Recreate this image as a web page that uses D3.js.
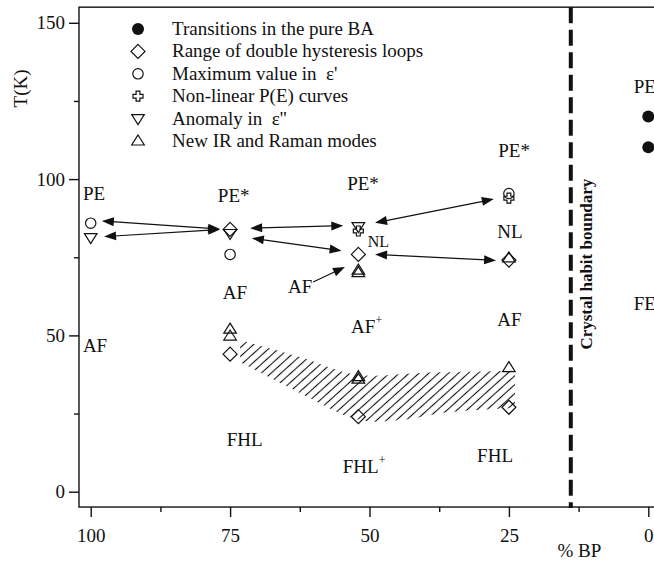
<!DOCTYPE html>
<html><head><meta charset="utf-8">
<script src="https://cdn.jsdelivr.net/npm/d3@7"></script>
<style>
body{margin:0;background:#fff;}
svg{display:block;font-family:"Liberation Serif","Times New Roman",serif;}
</style></head><body>
<svg id="c" width="654" height="561"></svg>
<script>
// ---------- data ----------
const xMajorTicks = [100, 75, 50, 25, 0];
const xMinorTicks = [87.5, 62.5, 37.5, 12.5];
const yMajorTicks = [0, 50, 100, 150];
const yMinorTicks = [25, 75, 125];

const pureBA      = [{x:0,t:120},{x:0,t:110.2}];
const doubleLoops = [{x:75,t:83.9},{x:75,t:44},{x:52,t:75.9},{x:52,t:24},{x:25,t:74.1},{x:25,t:27}];
const maxEps1     = [{x:100,t:85.9},{x:75,t:75.9},{x:25,t:95.4}];
const nonLinearPE = [{x:52,t:83.4},{x:25,t:93.9}];
const anomalyEps2 = [{x:100,t:81.3},{x:75,t:82.6},{x:52,t:84.8}];
const newModes    = [{x:75,t:52},{x:75,t:49.8},{x:52,t:70.9},{x:52,t:70.1},{x:52,t:36.8},{x:52,t:36.0},{x:25,t:74.8},{x:25,t:39.7}];

const hatchUpper = [{x:73.2,t:48.5},{x:62.5,t:43.1},{x:52.2,t:37.4},{x:40.9,t:38.0},{x:23.9,t:38.7}];
const hatchLower = [{x:73.2,t:41.5},{x:62.5,t:31.6},{x:51.7,t:22.9},{x:44.5,t:22.9},{x:35.6,t:25.5},{x:23.9,t:26.8}];

const boundaryX = 13.9;

const arrows = [
  {x1:98.0,t1:86.6,x2:76.8,t2:84.0,both:true},
  {x1:97.6,t1:81.6,x2:76.8,t2:83.9,both:true},
  {x1:71.4,t1:84.3,x2:54.7,t2:85.1,both:true},
  {x1:71.1,t1:81.1,x2:55.0,t2:77.1,both:true},
  {x1:49.0,t1:86.0,x2:27.7,t2:93.6,both:true},
  {x1:49.0,t1:75.9,x2:27.3,t2:74.0,both:true},
  {x1:60.1,t1:67.1,x2:54.4,t2:71.9,both:false}
];

const labels = [
  {text:"PE",  x:101.4,t:93.3},
  {text:"PE*", x:77.2, t:92.7},
  {text:"PE*", x:54.0, t:96.5},
  {text:"PE*", x:26.9, t:107.1},
  {text:"AF",  x:101.4,t:44.7},
  {text:"AF",  x:76.3, t:61.6},
  {text:"AF",  x:64.6, t:63.6},
  {text:"NL",  x:50.3, t:78.3, small:true},
  {text:"NL",  x:27.1, t:81.1},
  {text:"AF",  x:53.3, t:50.8, sup:"+"},
  {text:"AF",  x:27.1, t:53.0},
  {text:"FE",  x:2.6,  t:58.2},
  {text:"PE",  x:2.6,  t:127.5},
  {text:"FHL", x:75.6, t:14.6},
  {text:"FHL", x:54.8, t:6.0, sup:"+"},
  {text:"FHL", x:30.7, t:9.5}
];

const legendItems = [
  {shape:"filled",  text:"Transitions in the pure BA"},
  {shape:"diamond", text:"Range of double hysteresis loops"},
  {shape:"circle",  text:"Maximum value in  ε'"},
  {shape:"cross",   text:"Non-linear P(E) curves"},
  {shape:"down",    text:"Anomaly in  ε''"},
  {shape:"up",      text:"New IR and Raman modes"}
];

// ---------- scales ----------
const svg = d3.select('#c');
const x = d3.scaleLinear().domain([100, 0]).range([90.7, 648.3]);
const y = d3.scaleLinear().domain([0, 150]).range([491.7, 22.8]);
const xLo = 102.1, xHi = -2.2, yLo = -4.9, yHi = 155;
const INK = '#111';

// ---------- shapes ----------
const shapes = {
  diamond: 'M0,-7L7,0L0,7L-7,0Z',
  up: 'M0,-6L6.3,4L-6.3,4Z',
  down: 'M-6.3,-4L6.3,-4L0,6Z',
  cross: (()=>{const a=1.9,L=5;return `M${-a},${-L}H${a}V${-a}H${L}V${a}H${a}V${L}H${-a}V${a}H${-L}V${-a}H${-a}Z`;})()
};
function drawShape(g, shape, cx, cy){
  if(shape==='filled'){
    g.append('circle').attr('cx',cx).attr('cy',cy).attr('r',6).attr('fill',INK);
  } else if(shape==='circle'){
    g.append('circle').attr('cx',cx).attr('cy',cy).attr('r',5.2).attr('fill','none').attr('stroke',INK).attr('stroke-width',1.2);
  } else {
    g.append('path').attr('d',shapes[shape]).attr('transform',`translate(${cx},${cy})`)
      .attr('fill','none').attr('stroke',INK).attr('stroke-width',1.2).attr('stroke-linejoin','miter');
  }
}

// ---------- hatch pattern ----------
const defs = svg.append('defs');
const pat = defs.append('pattern').attr('id','hatch').attr('patternUnits','userSpaceOnUse')
  .attr('width',10).attr('height',6.6).attr('patternTransform','rotate(-42)');
pat.append('line').attr('x1',0).attr('y1',3.3).attr('x2',10).attr('y2',3.3)
  .attr('stroke',INK).attr('stroke-width',1.1);

const lineGen = d3.line().x(d=>x(d.x)).y(d=>y(d.t)).curve(d3.curveCatmullRom);
const upPath = lineGen(hatchUpper);
const loPath = lineGen(hatchLower.slice().reverse());
svg.append('path').attr('d', upPath + loPath.replace(/^M/,'L') + 'Z').attr('fill','url(#hatch)');

// ---------- frame ----------
svg.append('rect').attr('x',x(xLo)).attr('y',y(yHi))
  .attr('width',x(xHi)-x(xLo)).attr('height',y(yLo)-y(yHi))
  .attr('fill','none').attr('stroke',INK).attr('stroke-width',1.4);

// ---------- axes ----------
function styleAxis(g){
  g.select('.domain').remove();
  g.attr('font-family','"Liberation Serif","Times New Roman",serif').attr('font-size',19);
  g.selectAll('line').attr('stroke',INK).attr('stroke-width',1.4);
  g.selectAll('text').attr('fill',INK);
}
svg.append('g').attr('transform',`translate(0,${y(yLo)})`)
  .call(d3.axisBottom(x).tickValues(xMajorTicks).tickSize(10).tickPadding(11.5).tickFormat(d3.format('d')))
  .call(styleAxis);
svg.append('g').attr('transform',`translate(0,${y(yLo)})`)
  .call(d3.axisBottom(x).tickValues(xMinorTicks).tickSize(5).tickFormat(''))
  .call(styleAxis);
svg.append('g').attr('transform',`translate(${x(xLo)},0)`)
  .call(d3.axisLeft(y).tickValues(yMajorTicks).tickSize(10).tickPadding(4).tickFormat(d3.format('d')))
  .call(styleAxis);
svg.append('g').attr('transform',`translate(${x(xLo)},0)`)
  .call(d3.axisLeft(y).tickValues(yMinorTicks).tickSize(5).tickFormat(''))
  .call(styleAxis);

// axis titles
svg.append('text').attr('transform',`translate(20,${y(129)}) rotate(-90)`)
  .attr('text-anchor','middle').attr('dominant-baseline','central')
  .attr('font-size',19).attr('fill',INK).text('T(K)');
svg.append('text').attr('x',x(16.3)).attr('y',557)
  .attr('font-size',19).attr('fill',INK).text('% BP');

// ---------- boundary ----------
svg.append('line').attr('x1',x(boundaryX)).attr('x2',x(boundaryX))
  .attr('y1',y(yHi)).attr('y2',y(yLo)+1)
  .attr('stroke',INK).attr('stroke-width',4).attr('stroke-dasharray','16,6.5');
svg.append('text').attr('transform',`translate(${x(11.0)},${y(72.8)}) rotate(-90)`)
  .attr('text-anchor','middle').attr('dominant-baseline','central')
  .attr('font-size',17).attr('font-weight','bold').attr('fill',INK).text('Crystal habit boundary');

// ---------- arrows ----------
const ag = svg.append('g');
function head(px,py,ux,uy){
  const L=12, W=4.5, bx=px-ux*L, by=py-uy*L;
  ag.append('path').attr('d',`M${px},${py}L${bx-uy*W},${by+ux*W}L${bx+uy*W},${by-ux*W}Z`).attr('fill',INK);
}
arrows.forEach(a=>{
  const X1=x(a.x1),Y1=y(a.t1),X2=x(a.x2),Y2=y(a.t2);
  const dx=X2-X1, dy=Y2-Y1, len=Math.hypot(dx,dy), ux=dx/len, uy=dy/len;
  const s = a.both ? 10 : 0;
  ag.append('line').attr('x1',X1+ux*s).attr('y1',Y1+uy*s).attr('x2',X2-ux*10).attr('y2',Y2-uy*10)
    .attr('stroke',INK).attr('stroke-width',1.2);
  head(X2,Y2,ux,uy);
  if(a.both) head(X1,Y1,-ux,-uy);
});

// ---------- markers ----------
const mg = svg.append('g');
pureBA.forEach(d=>drawShape(mg,'filled',x(d.x),y(d.t)));
doubleLoops.forEach(d=>drawShape(mg,'diamond',x(d.x),y(d.t)));
maxEps1.forEach(d=>drawShape(mg,'circle',x(d.x),y(d.t)));
nonLinearPE.forEach(d=>drawShape(mg,'cross',x(d.x),y(d.t)));
anomalyEps2.forEach(d=>drawShape(mg,'down',x(d.x),y(d.t)));
newModes.forEach(d=>drawShape(mg,'up',x(d.x),y(d.t)));

// ---------- labels ----------
labels.forEach(l=>{
  const t = svg.append('text').attr('x',x(l.x)).attr('y',y(l.t))
    .attr('font-size', l.small ? 16 : 19).attr('fill',INK).text(l.text);
  if(l.sup) t.append('tspan').attr('font-size',12).attr('dy',-9).text(l.sup);
});

// ---------- legend ----------
const lg = svg.append('g');
legendItems.forEach((it,i)=>{
  const base = 35 + i*22.4;
  drawShape(lg, it.shape, 138, base-6);
  lg.append('text').attr('x',172).attr('y',base).attr('font-size',19)
    .attr('fill',INK).style('white-space','pre').text(it.text);
});
</script>
</body></html>
